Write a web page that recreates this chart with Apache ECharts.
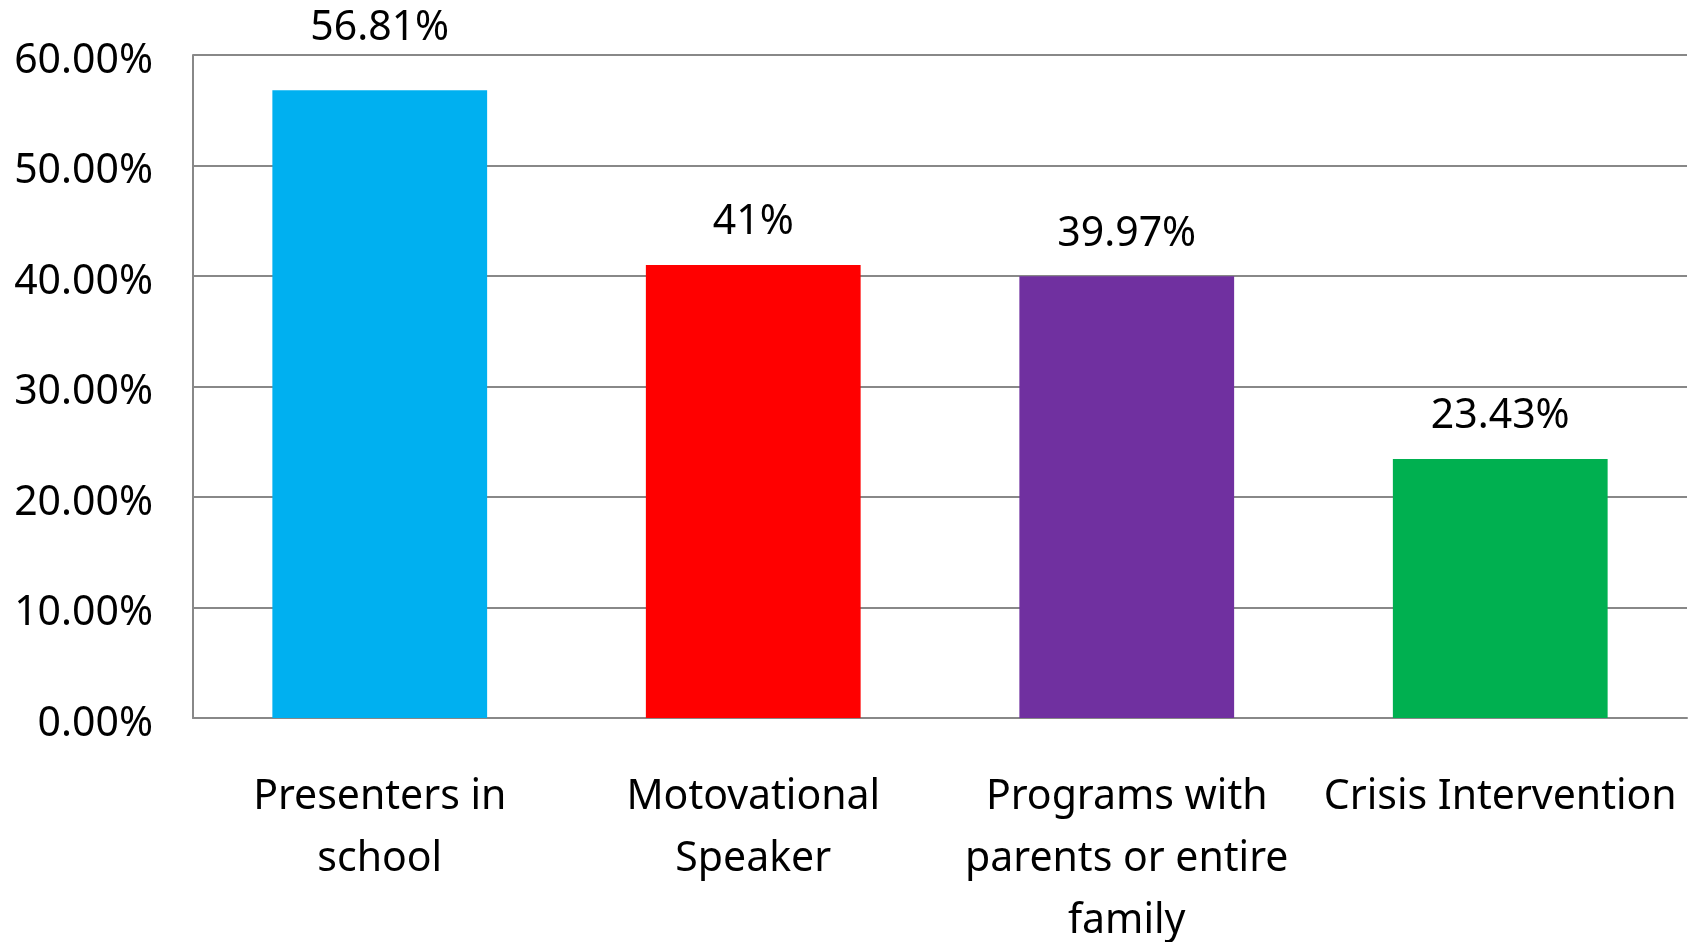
<!DOCTYPE html>
<html>
<head>
<meta charset="utf-8">
<script src="https://cdn.jsdelivr.net/npm/echarts@6/dist/echarts.min.js"></script>
<style>
html,body{margin:0;padding:0;background:#fff;}
#main{width:1698px;height:942px;}
</style>
</head>
<body>
<div id="main"></div>
<script>
var categories = ['Presenters in\nschool', 'Motovational\nSpeaker', 'Programs with\nparents or entire\nfamily', 'Crisis Intervention'];
var values = [56.81, 41, 39.97, 23.43];
var valueLabels = ['56.81%', '41%', '39.97%', '23.43%'];
var barColors = ['#00B0F0', '#FF0000', '#7030A0', '#00B050'];

var seriesData = [];
for (var i = 0; i < values.length; i++) {
	var item = { value: values[i], itemStyle: { color: barColors[i] } };
	if (i == 0) item.label = { distance: 41 };
	seriesData.push(item);
}

var myChart = echarts.init(document.getElementById('main'));

var option = {
	backgroundColor: '#fff',
	textStyle: { fontFamily: 'Noto Sans' },
	grid: { left: 193, right: 11, top: 55, bottom: 224, outerBoundsMode: 'none' },
	xAxis: {
		type: 'category',
		data: categories,
		axisLine: { lineStyle: { color: '#888', width: 2 } },
		axisTick: { show: false },
		axisLabel: {
			color: '#000',
			fontSize: 41,
			lineHeight: 62,
			margin: 48,
			interval: 0
		}
	},
	yAxis: {
		type: 'value',
		min: 0,
		max: 60,
		interval: 10,
		axisLine: { show: true, lineStyle: { color: '#888', width: 2 } },
		axisTick: { show: false },
		splitLine: { lineStyle: { color: '#888', width: 2 } },
		axisLabel: {
			color: '#000',
			fontSize: 41,
			margin: 40,
			verticalAlign: 'top',
			lineHeight: 12,
			formatter: function (v) { return v.toFixed(2) + '%'; }
		}
	},
	series: [{
		type: 'bar',
		barWidth: '57.5%',
		data: seriesData,
		label: {
			show: true,
			position: 'top',
			distance: 22,
			color: '#000',
			fontSize: 41,
			formatter: function (p) { return valueLabels[p.dataIndex]; }
		}
	}]
};

myChart.setOption(option);
</script>
</body>
</html>
